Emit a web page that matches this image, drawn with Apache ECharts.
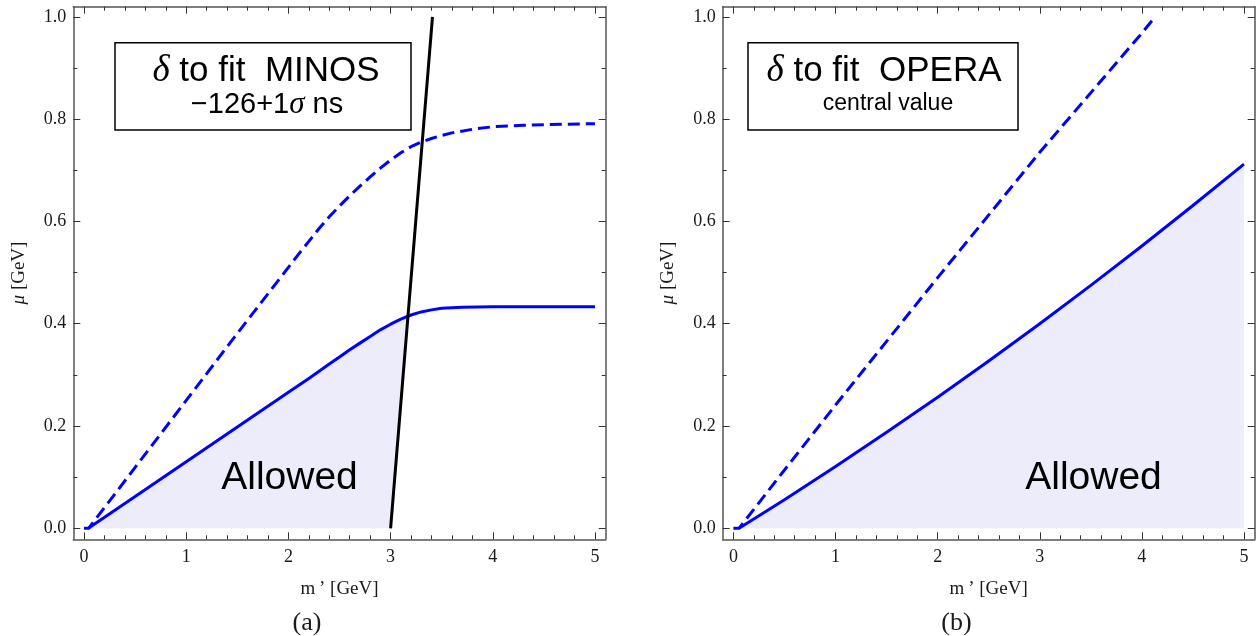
<!DOCTYPE html>
<html><head><meta charset="utf-8">
<script src="https://cdn.jsdelivr.net/npm/echarts@6/dist/echarts.min.js"></script>
<style>html,body{margin:0;padding:0;background:#fff}#c{width:1258px;height:636px}</style>
</head><body><div id="c"></div>
<script>
// ---- data ----
const xTicks = [0, 1, 2, 3, 4, 5];
const yTicks = [0, 0.2, 0.4, 0.6, 0.8, 1.0];
const xRange = [-0.105, 5.105];
const yRange = [-0.0215, 1.0197];

// panel (a): delta to fit MINOS
const leftSolid = [[0.042,0],[0.5,0.062],[1.0,0.13],[1.5,0.198],[2.0,0.266],[2.2,0.293],[2.3,0.307],[2.4,0.321],[2.5,0.335],[2.6,0.349],[2.7,0.362],[2.8,0.375],[2.9,0.388],[3.0,0.399],[3.1,0.409],[3.2,0.417],[3.3,0.423],[3.4,0.427],[3.5,0.43],[3.7,0.432],[4.0,0.433],[5.0,0.433]];
const leftDashed = [[0,0],[0.045,0],[0.5,0.119],[1.0,0.25],[1.5,0.381],[2.0,0.51],[2.1,0.536],[2.2,0.561],[2.3,0.586],[2.4,0.609],[2.5,0.63],[2.6,0.65],[2.7,0.669],[2.8,0.687],[2.9,0.704],[3.0,0.72],[3.1,0.734],[3.2,0.746],[3.3,0.755],[3.4,0.762],[3.5,0.768],[3.6,0.773],[3.8,0.78],[4.0,0.785],[4.3,0.788],[4.7,0.79],[5.0,0.791]];
const leftBoundary = [[3.0,0],[3.41,1.0]];

// panel (b): delta to fit OPERA
const rightSolid = [[0.055,0],[0.5,0.056],[1.0,0.121],[1.5,0.188],[2.0,0.256],[2.5,0.327],[3.0,0.4],[3.5,0.475],[4.0,0.552],[4.5,0.631],[5.0,0.712]];
const rightDashed = [[0,0],[0.055,0],[0.5,0.114],[1.0,0.241],[2.0,0.49],[3.0,0.735],[4.0,0.968],[4.13,1.0]];

const panelLabels = ['(a)', '(b)'];
const xName = 'm\u2009’ [GeV]';
const yName = '{i|μ} [GeV]';
const allowedText = 'Allowed';

// ---- helpers ----
const BLUE = '#0000ff';
const FILL = '#ececfb';
const FRAME = '#555';

function leftFillPoly() {
  const a = leftBoundary[0], b = leftBoundary[1];
  const bx = y => a[0] + (b[0] - a[0]) * (y - a[1]) / (b[1] - a[1]);
  const pts = [];
  for (let i = 0; i < leftSolid.length; i++) {
    const p = leftSolid[i];
    if (p[0] <= bx(p[1])) { pts.push(p); continue; }
    const q = leftSolid[i - 1];
    const f0 = q[0] - bx(q[1]), f1 = p[0] - bx(p[1]);
    const t = f0 / (f0 - f1);
    pts.push([q[0] + t * (p[0] - q[0]), q[1] + t * (p[1] - q[1])]);
    break;
  }
  pts.push(a);
  return pts;
}
function rightFillPoly() {
  const last = rightSolid[rightSolid.length - 1];
  return rightSolid.concat([[last[0], 0]]);
}

const tickFont = { fontFamily: 'Liberation Serif', fontSize: 18, color: '#1a1a1a' };
const nameStyle = {
  fontFamily: 'Liberation Serif', fontSize: 19, color: '#1a1a1a',
  rich: { i: { fontFamily: 'Liberation Serif', fontStyle: 'italic', fontSize: 19, color: '#1a1a1a' } }
};

function xAxes(g) {
  const common = {
    gridIndex: g, type: 'value', min: xRange[0], max: xRange[1],
    axisLine: { show: true, onZero: false, lineStyle: { color: FRAME, width: 1.5 } },
    axisTick: { show: true, inside: true, length: 7, customValues: xTicks, lineStyle: { color: '#333', width: 1 } },
    minorTick: { show: true, splitNumber: 5, length: 4, lineStyle: { color: '#333', width: 1 } },
    splitLine: { show: false }, minorSplitLine: { show: false }
  };
  return [
    Object.assign({}, common, {
      position: 'bottom',
      axisLabel: Object.assign({ show: true, margin: 9, customValues: xTicks, formatter: v => String(Math.round(v)) }, tickFont),
      name: xName, nameLocation: 'middle', nameGap: 40, nameTextStyle: nameStyle
    }),
    Object.assign({}, common, { position: 'top', axisLabel: { show: false } })
  ];
}
function yAxes(g) {
  const common = {
    gridIndex: g, type: 'value', min: yRange[0], max: yRange[1],
    axisLine: { show: true, onZero: false, lineStyle: { color: FRAME, width: 1.5 } },
    axisTick: { show: true, inside: true, length: 7, customValues: yTicks, lineStyle: { color: '#333', width: 1 } },
    minorTick: { show: true, splitNumber: 2, length: 4, lineStyle: { color: '#333', width: 1 } },
    splitLine: { show: false }, minorSplitLine: { show: false }
  };
  return [
    Object.assign({}, common, {
      position: 'left',
      axisLabel: Object.assign({ show: true, margin: 7, customValues: yTicks, formatter: v => v.toFixed(1) }, tickFont),
      name: yName, nameLocation: 'middle', nameGap: 45, nameRotate: 90, nameTextStyle: nameStyle
    }),
    Object.assign({}, common, { position: 'right', axisLabel: { show: false } })
  ];
}

function fillSeries(poly, xi, yi) {
  return {
    type: 'custom', xAxisIndex: xi, yAxisIndex: yi, silent: true, z: 1, clip: true,
    data: poly, encode: { x: 0, y: 1 },
    renderItem: (params, api) => {
      if (params.dataIndex !== 0) return null;
      return { type: 'polygon', shape: { points: poly.map(p => api.coord(p)) }, style: { fill: FILL } };
    }
  };
}
function lineSeries(data, xi, yi, color, dashed, z) {
  return {
    type: 'line', xAxisIndex: xi, yAxisIndex: yi, data: data, showSymbol: false, symbol: 'none',
    smooth: false, silent: true, z: z, clip: false,
    lineStyle: { color: color, width: 3, type: dashed ? [12, 6] : 'solid', cap: 'butt', join: 'round' }
  };
}

const boxSans = '"Liberation Sans", Arial, sans-serif';
const option = {
  animation: false,
  backgroundColor: '#fff',
  grid: [
    { left: 73.3, top: 6.7, width: 532.4, height: 532.6, containLabel: false, outerBoundsMode: 'none' },
    { left: 722.7, top: 6.7, width: 532, height: 532.6, containLabel: false, outerBoundsMode: 'none' }
  ],
  xAxis: xAxes(0).concat(xAxes(1)),
  yAxis: yAxes(0).concat(yAxes(1)),
  series: [
    fillSeries(leftFillPoly(), 0, 0),
    lineSeries(leftSolid, 0, 0, BLUE, false, 2),
    lineSeries(leftDashed, 0, 0, BLUE, true, 2),
    lineSeries(leftBoundary, 0, 0, '#000', false, 3),
    fillSeries(rightFillPoly(), 2, 2),
    lineSeries(rightSolid, 2, 2, BLUE, false, 2),
    lineSeries(rightDashed, 2, 2, BLUE, true, 2)
  ],
  graphic: [
    { type: 'rect', shape: { x: 115, y: 42.7, width: 296, height: 87.3 }, style: { fill: '#fff', stroke: '#000', lineWidth: 1.5 }, z: 10 },
    { type: 'text', z: 11, style: { x: 266, y: 71, text: '{d|δ} to fit  MINOS', font: '35px ' + boxSans, fill: '#000', textAlign: 'center', textVerticalAlign: 'middle',
        rich: { d: { fontFamily: 'Liberation Serif', fontStyle: 'italic', fontSize: 37 } } } },
    { type: 'text', z: 11, style: { x: 267, y: 105, text: '−126+1{s|σ} ns', font: '29px ' + boxSans, fill: '#000', textAlign: 'center', textVerticalAlign: 'middle',
        rich: { s: { fontFamily: 'Liberation Serif', fontStyle: 'italic', fontSize: 31 } } } },
    { type: 'rect', shape: { x: 748, y: 42.7, width: 270, height: 87.3 }, style: { fill: '#fff', stroke: '#000', lineWidth: 1.5 }, z: 10 },
    { type: 'text', z: 11, style: { x: 884, y: 71, text: '{d|δ} to fit  OPERA', font: '35px ' + boxSans, fill: '#000', textAlign: 'center', textVerticalAlign: 'middle',
        rich: { d: { fontFamily: 'Liberation Serif', fontStyle: 'italic', fontSize: 37 } } } },
    { type: 'text', z: 11, style: { x: 888, y: 104, text: 'central value', font: '23px ' + boxSans, fill: '#000', textAlign: 'center', textVerticalAlign: 'middle' } },
    { type: 'text', z: 11, style: { x: 289.5, y: 478, text: allowedText, font: '39px ' + boxSans, fill: '#000', textAlign: 'center', textVerticalAlign: 'middle' } },
    { type: 'text', z: 11, style: { x: 1093.5, y: 478, text: allowedText, font: '39px ' + boxSans, fill: '#000', textAlign: 'center', textVerticalAlign: 'middle' } },
    { type: 'text', z: 11, style: { x: 307, y: 623, text: panelLabels[0], font: '26px "Liberation Serif"', fill: '#1a1a1a', textAlign: 'center', textVerticalAlign: 'middle' } },
    { type: 'text', z: 11, style: { x: 956.4, y: 623, text: panelLabels[1], font: '26px "Liberation Serif"', fill: '#1a1a1a', textAlign: 'center', textVerticalAlign: 'middle' } }
  ]
};
const chart = echarts.init(document.getElementById('c'), null, { renderer: 'canvas' });
chart.setOption(option);
</script></body></html>
